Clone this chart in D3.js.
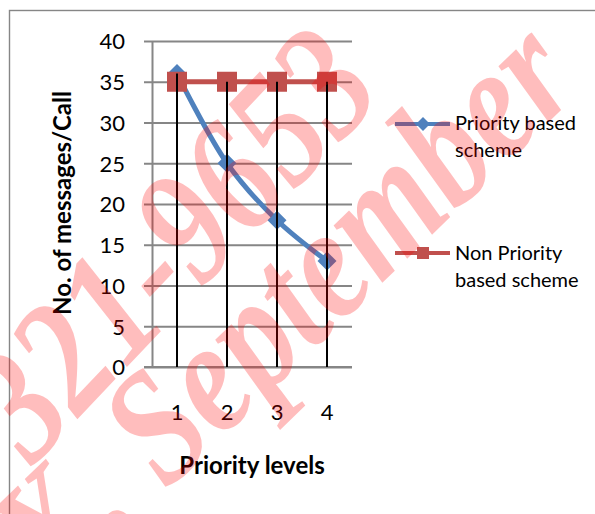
<!DOCTYPE html>
<html>
<head>
<meta charset="utf-8">
<script src="https://cdn.jsdelivr.net/npm/d3@7"></script>
<style>
  html, body { margin: 0; padding: 0; background: #ffffff; }
  svg { display: block; }
</style>
</head>
<body>
<div id="chart"></div>
<script>
// chart values
const categories     = [1, 2, 3, 4];
const priorityBased  = [36, 25, 18, 13];
const nonPriority    = [35, 35, 35, 35];
const yTicks         = [0, 5, 10, 15, 20, 25, 30, 35, 40];
const legendBlue     = ["Priority based", "scheme"];
const legendRed      = ["Non Priority", "based scheme"];
const xTitle         = "Priority levels";
const yTitle         = "No. of messages/Call";
const watermark      = ["321-9653", "X, September"];

const W = 595, H = 514;
const blue = "#4F81BD", red = "#C0504D", grid = "#868686";
const font = "Lato, 'Open Sans', sans-serif";

const svg = d3.select("#chart").append("svg")
    .attr("width", W).attr("height", H);

// outer chart border (clipped by the picture on right / bottom)
svg.append("rect")
    .attr("x", 9.5).attr("y", 10.5)
    .attr("width", 640).attr("height", 560)
    .attr("fill", "none").attr("stroke", grid).attr("stroke-width", 1.4);

const x = d3.scaleBand().domain(categories).range([152, 352]).padding(0);
const y = d3.scaleLinear().domain([0, 40]).range([367, 41]);
const cx = d => x(d) + x.bandwidth() / 2;

// gridlines
svg.append("g")
    .attr("transform", "translate(152,0)")
    .call(d3.axisLeft(y).tickValues(yTicks).tickSize(-200).tickFormat(""))
    .call(g => g.select(".domain").remove())
    .call(g => g.selectAll("line").attr("stroke", grid).attr("stroke-width", 2));

// y axis with stubs and labels
svg.append("g")
    .attr("transform", "translate(152,0)")
    .call(d3.axisLeft(y).tickValues(yTicks).tickSize(8).tickSizeOuter(0).tickPadding(19))
    .call(g => g.select(".domain").attr("stroke", grid).attr("stroke-width", 2))
    .call(g => g.selectAll("line").attr("stroke", grid).attr("stroke-width", 2))
    .call(g => g.selectAll("text")
        .attr("font-family", font).attr("font-size", 22)
        .attr("fill", "#000").attr("dy", "0.36em"));

// x axis
svg.append("g")
    .attr("transform", "translate(0,367)")
    .call(d3.axisBottom(x).tickSize(0).tickPadding(37))
    .call(g => g.select(".domain").attr("stroke", grid).attr("stroke-width", 2)
        .attr("d", "M144,0H352"))
    .call(g => g.selectAll("text")
        .attr("font-family", font).attr("font-size", 22).attr("fill", "#000"));

// series: priority based (smoothed)
const lineBlue = d3.line()
    .x((d, i) => cx(categories[i]))
    .y(d => y(d))
    .curve(d3.curveCatmullRom.alpha(0.5));

svg.append("path")
    .datum(priorityBased)
    .attr("d", lineBlue)
    .attr("fill", "none").attr("stroke", blue).attr("stroke-width", 5)
    .attr("stroke-linejoin", "round");

const diamond = r => `M0,${-r}L${r},0L0,${r}L${-r},0Z`;

svg.append("g").selectAll("path")
    .data(priorityBased).enter()
    .append("path")
        .attr("d", diamond(9.5))
        .attr("transform", (d, i) => `translate(${cx(categories[i])},${y(d)})`)
        .attr("fill", blue);

// series: non priority based
const lineRed = d3.line()
    .x((d, i) => cx(categories[i]))
    .y(d => y(d));

svg.append("path")
    .datum(nonPriority)
    .attr("d", lineRed)
    .attr("fill", "none").attr("stroke", red).attr("stroke-width", 5);

svg.append("g").selectAll("rect")
    .data(nonPriority).enter()
    .append("rect")
        .attr("x", (d, i) => cx(categories[i]) - 10)
        .attr("y", d => y(d) - 10)
        .attr("width", 20).attr("height", 20)
        .attr("fill", red);

// drop lines from highest point to the axis
svg.append("g").selectAll("line")
    .data(categories).enter()
    .append("line")
        .attr("x1", d => cx(d)).attr("x2", d => cx(d))
        .attr("y1", (d, i) => y(Math.max(priorityBased[i], nonPriority[i])))
        .attr("y2", y(0))
        .attr("stroke", "#000").attr("stroke-width", 2);

// axis titles
svg.append("text")
    .attr("transform", "translate(71,203) rotate(-90)")
    .attr("text-anchor", "middle")
    .attr("font-family", font).attr("font-weight", "bold").attr("font-size", 24)
    .text(yTitle);

svg.append("text")
    .attr("x", 252).attr("y", 474)
    .attr("text-anchor", "middle")
    .attr("font-family", font).attr("font-weight", "bold").attr("font-size", 24)
    .text(xTitle);

// legend
const legend = svg.append("g");
const lgB = legend.append("g").attr("transform", "translate(0,124)");
lgB.append("line").attr("x1", 395).attr("x2", 450)
    .attr("stroke", blue).attr("stroke-width", 4);
lgB.append("path").attr("d", diamond(7)).attr("transform", "translate(423,0)").attr("fill", blue);
legend.append("text")
    .attr("font-family", font).attr("font-size", 20)
    .selectAll("tspan").data(legendBlue).enter()
    .append("tspan").attr("x", 455).attr("y", (d, i) => 130 + i * 27).text(d => d);

const lgR = legend.append("g").attr("transform", "translate(0,253)");
lgR.append("line").attr("x1", 395).attr("x2", 450)
    .attr("stroke", red).attr("stroke-width", 4);
lgR.append("rect").attr("x", 417).attr("y", -6).attr("width", 12).attr("height", 12).attr("fill", red);
legend.append("text")
    .attr("font-family", font).attr("font-size", 20)
    .selectAll("tspan").data(legendRed).enter()
    .append("tspan").attr("x", 455).attr("y", (d, i) => 260 + i * 27).text(d => d);

// watermark over the chart
const wm = svg.append("g")
    .attr("font-family", "'Liberation Serif', serif")
    .attr("font-style", "italic").attr("font-weight", "bold")
    .attr("font-size", 134)
    .attr("fill", "#ff0000").attr("fill-opacity", 0.26)
    .attr("text-anchor", "end");
wm.append("text").attr("transform", "translate(386,94) rotate(-46.5) scale(1,1.22)").text(watermark[0]);
wm.append("text").attr("transform", "translate(584,88) rotate(-44) scale(1,1.22)").text(watermark[1]);
</script>
</body>
</html>
